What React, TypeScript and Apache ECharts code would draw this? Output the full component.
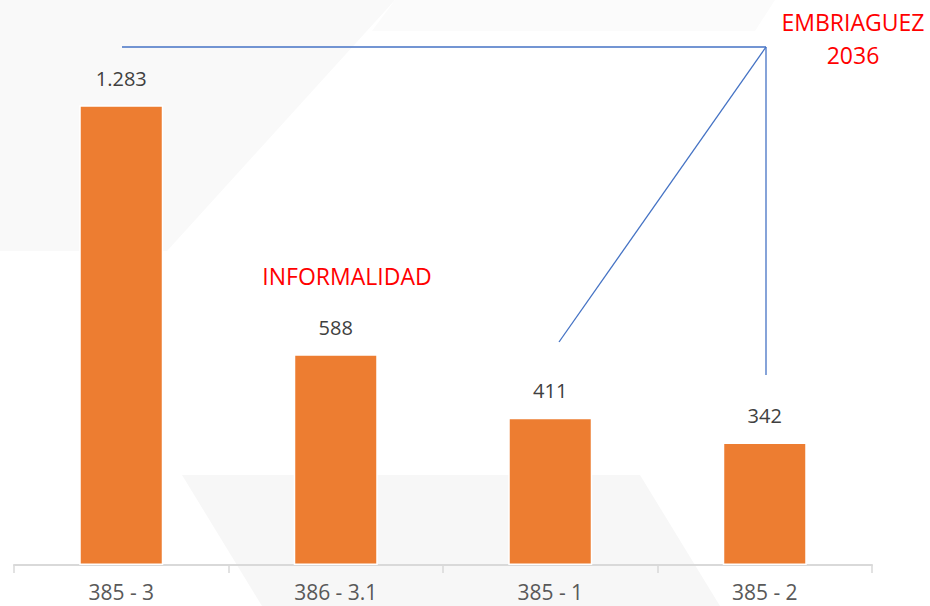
import React, { useEffect, useRef } from "react";
import * as echarts from "echarts";

const categories = ["385 - 3", "386 - 3.1", "385 - 1", "385 - 2"];
const values = [1283, 588, 411, 342];
const annotationInformalidad = "INFORMALIDAD";
const annotationEmbriaguez = ["EMBRIAGUEZ", "2036"];

const fmt = (v: number) => String(v).replace(/\B(?=(\d{3})+(?!\d))/g, ".");

export default function App() {
  const ref = useRef<HTMLDivElement>(null);
  useEffect(() => {
    if (!ref.current) return;
    const chart = echarts.init(ref.current, null, { renderer: "svg" });
    const font = "'Open Sans', 'Noto Sans', sans-serif";
    chart.setOption({
      animation: false,
      backgroundColor: "#ffffff",
      grid: { left: 14, right: 58, top: 65, bottom: 41 },
      xAxis: {
        type: "category",
        data: categories,
        axisLine: { show: true, lineStyle: { color: "#d9d9d9", width: 2 } },
        axisTick: { show: true, length: 8, lineStyle: { color: "#d9d9d9", width: 1.5 } },
        axisLabel: { color: "#595959", fontSize: 21, fontFamily: font, margin: 16 },
      },
      yAxis: { type: "value", min: 0, max: 1395, show: false, splitLine: { show: false } },
      graphic: [
        {
          type: "polygon",
          z: -10,
          silent: true,
          shape: { points: [[0, 0], [395, 0], [167, 251], [0, 251]] },
          style: { fill: "#f9f9f9" },
        },
        {
          type: "polygon",
          z: -10,
          silent: true,
          shape: { points: [[395, 0], [775, 0], [755, 31], [372, 31]] },
          style: { fill: "#fbfbfb" },
        },
        {
          type: "polygon",
          z: -10,
          silent: true,
          shape: { points: [[182, 475], [640, 475], [720, 606], [262, 606]] },
          style: { fill: "#f7f7f7" },
        },
        {
          type: "line",
          silent: true,
          shape: { x1: 122, y1: 47, x2: 766, y2: 47 },
          style: { stroke: "#4472C4", lineWidth: 1.3 },
        },
        {
          type: "line",
          silent: true,
          shape: { x1: 766, y1: 47, x2: 766, y2: 375 },
          style: { stroke: "#4472C4", lineWidth: 1.3 },
        },
        {
          type: "line",
          silent: true,
          shape: { x1: 766, y1: 47, x2: 559, y2: 342 },
          style: { stroke: "#4472C4", lineWidth: 1.3 },
        },
        {
          type: "text",
          x: 347,
          y: 276,
          style: {
            text: annotationInformalidad,
            fill: "#ff0000",
            fontSize: 23,
            fontFamily: font,
            align: "center",
            verticalAlign: "middle",
          },
        },
        {
          type: "text",
          x: 853,
          y: 38,
          style: {
            text: annotationEmbriaguez.join("\n"),
            fill: "#ff0000",
            fontSize: 23,
            lineHeight: 33,
            fontFamily: font,
            align: "center",
            verticalAlign: "middle",
          },
        },
      ],
      series: [
        {
          type: "bar",
          data: values,
          barWidth: 84,
          itemStyle: { color: "#ED7D31", borderColor: "#ffffff", borderWidth: 1.5 },
          label: {
            show: true,
            position: "top",
            distance: 17,
            color: "#404040",
            fontSize: 20,
            fontFamily: font,
            formatter: (p: any) => fmt(p.value),
          },
        },
      ],
    });
    return () => chart.dispose();
  }, []);
  return <div ref={ref} style={{ width: 930, height: 606, position: "absolute", left: 0, top: 0 }} />;
}
